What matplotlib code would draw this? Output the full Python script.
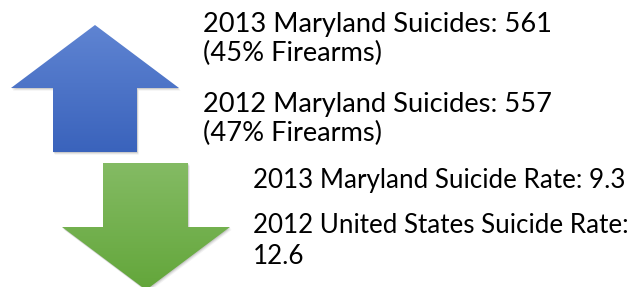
import numpy as np
import matplotlib
matplotlib.use("Agg")
import matplotlib.pyplot as plt
from matplotlib.patches import Polygon

# ---- content ----
upper_lines = ["2013 Maryland Suicides: 561", "(45% Firearms)",
               "2012 Maryland Suicides: 557", "(47% Firearms)"]
lower_lines = ["2013 Maryland Suicide Rate: 9.3",
               "2012 United States Suicide Rate:", "12.6"]

# ---- layout (pixels) ----
W, H = 634, 287
fig = plt.figure(figsize=(W / 100, H / 100), dpi=100)
ax = fig.add_axes([0, 0, 1, 1])
ax.set_xlim(0, W)
ax.set_ylim(H, 0)
ax.axis("off")

font = ["Lato", "DejaVu Sans"]


def gradient_arrow(pts, c_top, c_bot):
    pts = np.array(pts, float)
    x0, x1 = pts[:, 0].min(), pts[:, 0].max()
    y0, y1 = pts[:, 1].min(), pts[:, 1].max()
    # soft shadow
    for k, a in [(3, 0.05), (2, 0.07), (1, 0.10)]:
        sh = Polygon(pts + [k * 0.6, k * 0.9], closed=True, fc="#000000",
                     ec="none", alpha=a, zorder=1)
        ax.add_patch(sh)
    c_top = np.array(matplotlib.colors.to_rgb(c_top))
    c_bot = np.array(matplotlib.colors.to_rgb(c_bot))
    t = np.linspace(0, 1, 256)[:, None]
    grad = (c_top * (1 - t) + c_bot * t)[:, None, :]
    im = ax.imshow(grad, extent=[x0, x1, y1, y0], aspect="auto", zorder=2,
                   interpolation="bilinear")
    poly = Polygon(pts, closed=True, fc="none", ec="none", zorder=2)
    ax.add_patch(poly)
    im.set_clip_path(poly)


# blue up arrow
gradient_arrow([(95, 25), (179, 88), (137, 88), (137, 152), (53, 152),
                (53, 88), (11, 88)], "#5f84d2", "#3a63bc")
# green down arrow
gradient_arrow([(103, 163), (188, 163), (188, 227), (230, 227), (146, 290),
                (62, 227), (103, 227)], "#84bb64", "#63a63a")
ax.set_xlim(0, W)
ax.set_ylim(H, 0)

upper_base = [32, 61, 112, 141]
for s, y in zip(upper_lines, upper_base):
    ax.text(203, y, s, fontsize=19.6, family=font, color="#000000",
            va="baseline", ha="left", zorder=3)

lower_base = [188, 233, 264]
for s, y in zip(lower_lines, lower_base):
    ax.text(253, y, s, fontsize=18.7, family=font, color="#000000",
            va="baseline", ha="left", zorder=3)

fig.savefig("out.png", dpi=100)
